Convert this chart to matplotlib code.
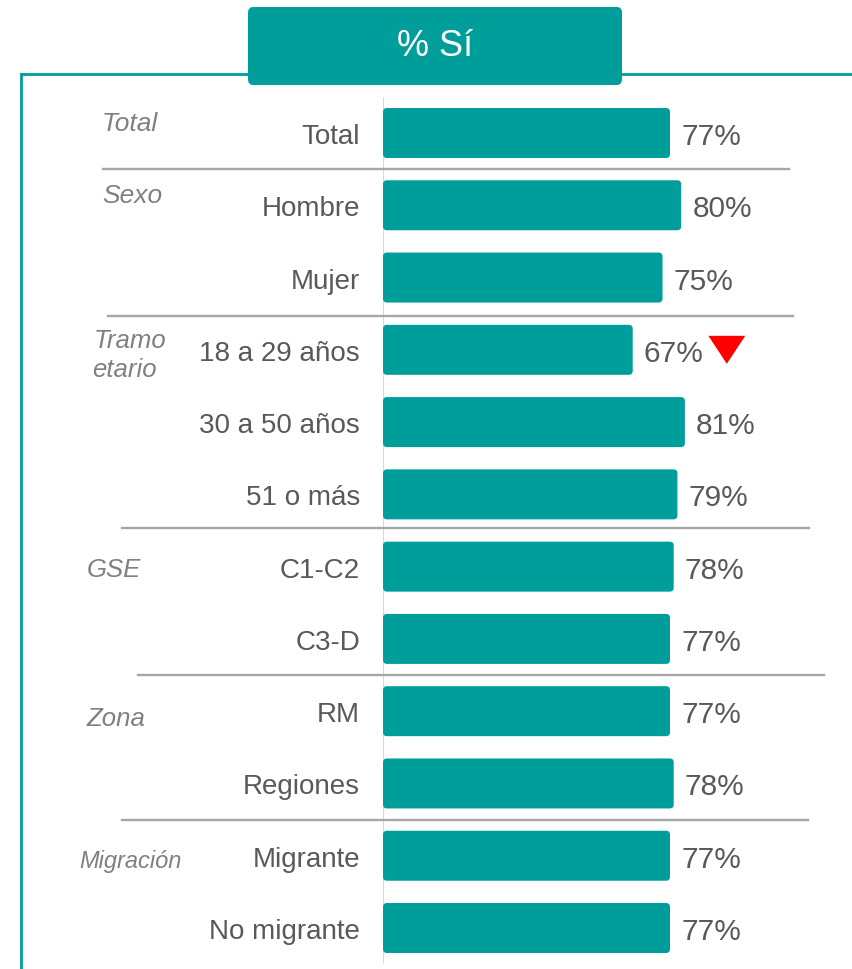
import matplotlib
matplotlib.use("Agg")
import matplotlib.pyplot as plt
from matplotlib.patches import FancyBboxPatch
from matplotlib.lines import Line2D

# ---- data ----
labels = ["Total", "Hombre", "Mujer", "18 a 29 años", "30 a 50 años", "51 o más",
          "C1-C2", "C3-D", "RM", "Regiones", "Migrante", "No migrante"]
values = [77, 80, 75, 67, 81, 79, 78, 77, 77, 78, 77, 77]
down_flags = [False, False, False, True, False, False, False, False, False, False, False, False]
groups = ["Total", "Sexo", "Tramo\netario", "GSE", "Zona", "Migración"]
header = "% Sí"

# ---- style ----
TEAL = "#009E9A"
TXT = "#595959"
GTXT = "#808080"
SEP = "#A6A6A6"
FONT = "Liberation Sans"

W, H = 853, 970
fig = plt.figure(figsize=(W / 100, H / 100), dpi=100)

def fx(x):
    return x / W

def fy(y):
    return 1 - y / H

px_per_pct = 3.727
ax_left, ax_right, ax_top, ax_bot = 383, 853, 98, 965
ax = fig.add_axes([fx(ax_left), fy(ax_bot), (ax_right - ax_left) / W, (ax_bot - ax_top) / H])
ax.set_xlim(0, (ax_right - ax_left) / px_per_pct)
row_px = (929 - 134) / 11
top_rows = (134 - ax_top) / row_px
ax.set_ylim(len(labels) - 1 + (ax_bot - 929) / row_px, -top_rows)
ax.axis("off")

ax.axvline(0, color="#D9D9D9", lw=1.5, zorder=1)

bar_h = 50 / row_px
r = 4 / px_per_pct
ma = px_per_pct / row_px
for i, (lab, v) in enumerate(zip(labels, values)):
    p = FancyBboxPatch((0, i - bar_h / 2), v, bar_h,
                       boxstyle=f"round,pad=0,rounding_size={r}",
                       mutation_aspect=ma, facecolor=TEAL, edgecolor="none", zorder=2)
    ax.add_patch(p)
    base = i + 10 / row_px
    ax.text(-23 / px_per_pct, base, lab, ha="right", va="baseline", fontsize=20,
            color=TXT, family=FONT, clip_on=False)
    ax.text(v + 3.0, i + 11 / row_px, f"{v}%", ha="left", va="baseline", fontsize=21.5,
            color=TXT, family=FONT, clip_on=False)
    if down_flags[i]:
        dy = 14 / row_px
        ax.fill([v + 20.3, v + 30.2, v + 25.25], [i - dy, i - dy, i + dy],
                color="#FF0000", edgecolor="none", zorder=3, clip_on=False)

# ---- group labels ----
gpos = [(102, 131, 19), (102, 203, 19), (93, 348, 18.5), (87, 577, 18.5),
        (86, 726, 18.5), (79, 868, 17)]
for g, (x, y, fs) in zip(groups, gpos):
    if "\n" in g:
        l1, l2 = g.split("\n")
        fig.text(fx(x + 1), fy(y), l1, ha="left", va="baseline", fontsize=fs,
                 style="italic", color=GTXT, family=FONT)
        fig.text(fx(x - 1), fy(y + 29), l2, ha="left", va="baseline", fontsize=fs,
                 style="italic", color=GTXT, family=FONT)
    else:
        fig.text(fx(x), fy(y), g, ha="left", va="baseline", fontsize=fs,
                 style="italic", color=GTXT, family=FONT)

# ---- separators ----
seps = [(170, 103, 789), (317, 108, 793), (529, 122, 809), (676, 138, 824), (821, 122, 808)]
for y, x0, x1 in seps:
    fig.add_artist(Line2D([fx(x0), fx(x1)], [fy(y), fy(y)], color=SEP, lw=1.7))

# ---- frame ----
fig.add_artist(Line2D([fx(21), fx(21)], [fy(75), fy(H + 5)], color=TEAL, lw=2))
fig.add_artist(Line2D([fx(21), fx(W + 5)], [fy(75), fy(75)], color=TEAL, lw=2))

# ---- header ----
hb = FancyBboxPatch((fx(248), fy(86)), fx(622) - fx(248), fy(8) - fy(86),
                    boxstyle="round,pad=0,rounding_size=0.006",
                    transform=fig.transFigure, facecolor=TEAL, edgecolor="none", zorder=5)
fig.add_artist(hb)
fig.text(fx(435), fy(47), header, ha="center", va="center", fontsize=26,
         color="white", family=FONT, zorder=6)

fig.savefig("out.png", dpi=100)
